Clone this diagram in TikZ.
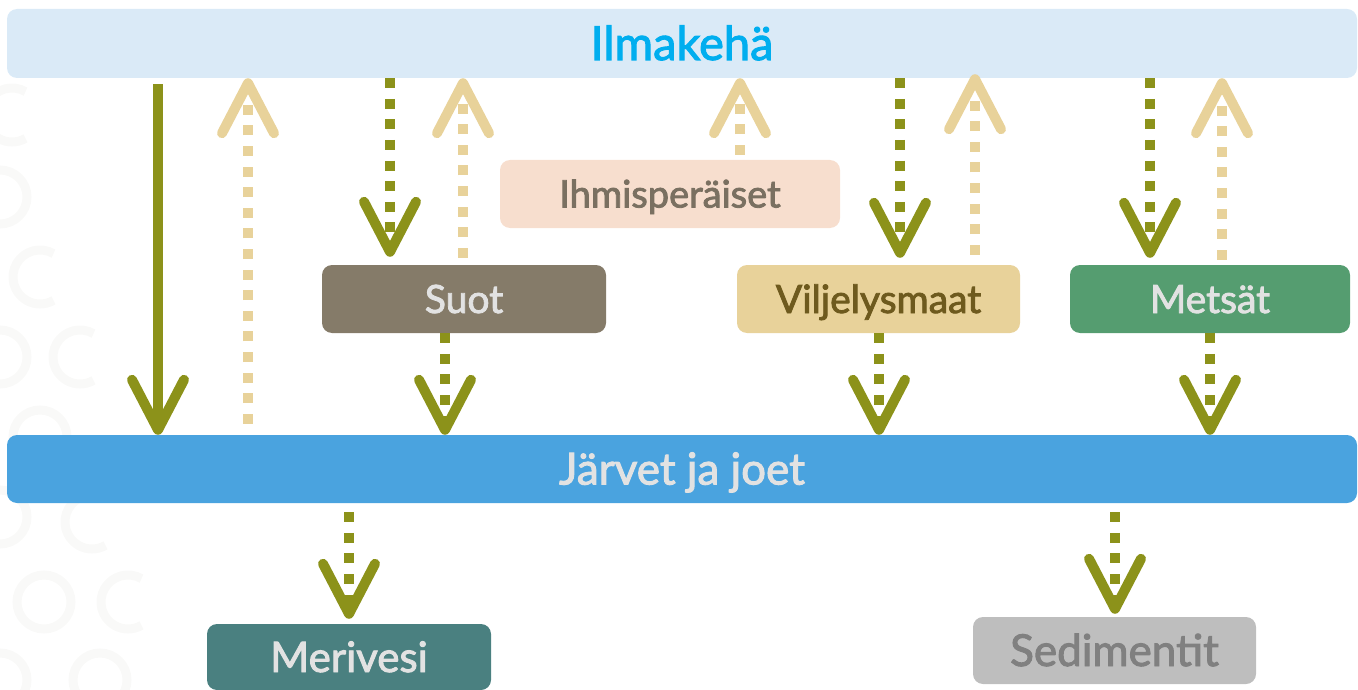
\documentclass[tikz,border=0pt]{standalone}
\usepackage{fontspec}
\setmainfont{Lato}[FakeBold=2.2]
\usetikzlibrary{arrows.meta}
\definecolor{oliveC}{HTML}{8C921A}
\definecolor{tanC}{HTML}{E8D29A}
\definecolor{ilmaC}{HTML}{DAEAF7}
\definecolor{ilmaT}{HTML}{00AEEF}
\definecolor{ihmisC}{HTML}{F7DECE}
\definecolor{ihmisT}{HTML}{7A7061}
\definecolor{suotC}{HTML}{857B69}
\definecolor{viljC}{HTML}{E8D29A}
\definecolor{viljT}{HTML}{6E5A1E}
\definecolor{metsC}{HTML}{559D70}
\definecolor{jarvC}{HTML}{4AA3DF}
\definecolor{meriC}{HTML}{4A8080}
\definecolor{sediC}{HTML}{BEBEBE}
\definecolor{sediT}{HTML}{808080}
\definecolor{lightT}{HTML}{E2E2E2}
\definecolor{ringC}{HTML}{F9F9F8}
\tikzset{
  Chev/.tip={Straight Barb[length=50pt,width=52pt,line width=10pt,round]},
}
\begin{document}
\begin{tikzpicture}[x=1pt,y=-1pt,
  box/.style={rounded corners=10pt, inner sep=0pt, align=center},
  olivesolid/.style={draw=oliveC, line width=10pt, -Chev},
  olivedot/.style={draw=oliveC, line width=10pt, dash pattern=on 10pt off 10.6pt, -Chev},
  tandot/.style={draw=tanC, line width=10pt, dash pattern=on 10pt off 10.6pt, -Chev},
  ring/.style={draw=ringC, line width=9pt},
]
\useasboundingbox (0,0) rectangle (1358,690);

% faint background rings
\foreach \cx/\cy in {0/197, 0/357, 40/437, 0/517, 44/602, 0/680, 100/680}
  \draw[ring] (\cx,\cy) circle[radius=27pt];
\foreach \cx/\cy in {12/115, 40/277, 80/357, 92/522, 128/602}
  \draw[ring] (\cx,\cy) ++(60:27pt) arc[start angle=60, end angle=300, radius=27pt];

\node[box, fill=ilmaC, text=ilmaT, minimum width=1350pt, minimum height=69pt,
  font=\fontsize{47}{47}\selectfont, text height=33pt, text depth=0pt] (ilma) at (682,43.5) {Ilmakehä};
\node[box, fill=ihmisC, text=ihmisT, minimum width=340pt, minimum height=68pt,
  font=\fontsize{38}{38}\selectfont, text height=27pt, text depth=0pt] (ihmis) at (670,194) {Ihmisperäiset};
\node[box, fill=suotC, text=lightT, minimum width=284pt, minimum height=68pt,
  font=\fontsize{39}{39}\selectfont, text height=28pt, text depth=0pt] (suot) at (464,299) {Suot};
\node[box, fill=viljC, text=viljT, minimum width=283pt, minimum height=68pt,
  font=\fontsize{39}{39}\selectfont, text height=28pt, text depth=0pt] (vilj) at (878.5,299) {Viljelysmaat};
\node[box, fill=metsC, text=lightT, minimum width=280pt, minimum height=68pt,
  font=\fontsize{39}{39}\selectfont, text height=28pt, text depth=0pt] (mets) at (1210,299) {Metsät};
\node[box, fill=jarvC, text=lightT, minimum width=1350pt, minimum height=68pt,
  font=\fontsize{44}{44}\selectfont, text height=31pt, text depth=0pt] (jarvet) at (682,469) {Järvet ja joet};
\node[box, fill=meriC, text=lightT, minimum width=284pt, minimum height=66pt,
  font=\fontsize{42}{42}\selectfont, text height=30pt, text depth=0pt] (meri) at (349,657) {Merivesi};
\node[box, fill=sediC, text=sediT, minimum width=283pt, minimum height=67pt,
  font=\fontsize{44}{44}\selectfont, text height=31pt, text depth=0pt] (sedi) at (1114.5,650.5) {Sedimentit};

% atmosphere to lakes
\draw[olivesolid, shorten <=6pt] (158,0 |- ilma.south) -- (158,0 |- jarvet.north);
\draw[tandot, shorten <=11pt] (248,0 |- jarvet.north) -- (248,0 |- ilma.south);
% suot
\draw[olivedot, shorten >=8pt] (390,0 |- ilma.south) -- (390,0 |- suot.north);
\draw[tandot, shorten <=7pt] (463,0 |- suot.north) -- (463,0 |- ilma.south);
% ihmisperaiset
\draw[tandot, shorten <=5pt] (740,0 |- ihmis.north) -- (740,0 |- ilma.south);
% viljelysmaat
\draw[olivedot, shorten >=7pt] (900,0 |- ilma.south) -- (900,0 |- vilj.north);
\draw[tandot, shorten <=10pt, shorten >=-4pt] (975,0 |- vilj.north) -- (975,0 |- ilma.south);
% metsat
\draw[olivedot, shorten >=7pt] (1150,0 |- ilma.south) -- (1150,0 |- mets.north);
\draw[tandot, shorten <=5pt] (1222,0 |- mets.north) -- (1222,0 |- ilma.south);
% to lakes
\draw[olivedot] (445,0 |- suot.south) -- (445,0 |- jarvet.north);
\draw[olivedot] (879,0 |- vilj.south) -- (879,0 |- jarvet.north);
\draw[olivedot] (1210,0 |- mets.south) -- (1210,0 |- jarvet.north);
% lakes onwards
\draw[olivedot, shorten <=9pt, shorten >=5pt] (349,0 |- jarvet.south) -- (349,0 |- meri.north);
\draw[olivedot, shorten <=9pt, shorten >=3pt] (1115,0 |- jarvet.south) -- (1115,0 |- sedi.north);
\end{tikzpicture}
\end{document}
